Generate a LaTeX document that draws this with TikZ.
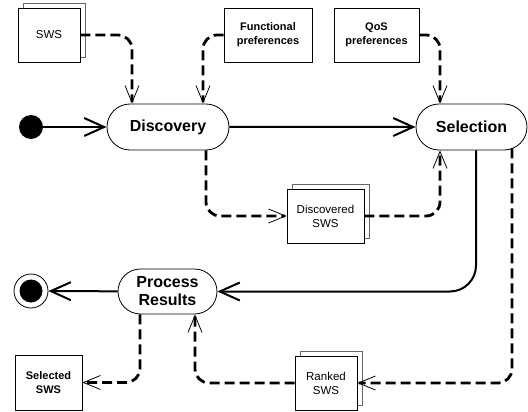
\documentclass[tikz,border=0pt]{standalone}
\usepackage{fontspec}
\setmainfont{Liberation Sans}
\usetikzlibrary{arrows.meta, calc, positioning, shapes.misc, shadows}

\begin{document}
\begin{tikzpicture}[x=1pt, y=-1pt,
  activity/.style={rounded rectangle, draw, line width=0.8pt, minimum height=46pt, inner sep=0pt, align=center, font=\fontsize{16}{18}\selectfont\bfseries},
  object/.style={rectangle, draw, line width=0.8pt, fill=white, minimum height=54pt, inner sep=0pt, align=center, font=\fontsize{11.5}{14}\selectfont},
  boldobject/.style={object, font=\fontsize{11}{14}\selectfont\bfseries},
  multi/.style={copy shadow={shadow xshift=5pt, shadow yshift=5pt, draw=black!60, fill=white, line width=0.6pt}},
  flow/.style={line width=2pt, rounded corners=26pt, -{Straight Barb[length=20pt, width=18pt]}},
  data/.style={line width=2.8pt, dash pattern=on 10pt off 5pt, rounded corners=14pt, -{Straight Barb[length=17pt, width=14pt, line width=0.8pt]}}]

% Boundary
\useasboundingbox (0,0) rectangle (528,412);

% Input objects
\node[object, multi, minimum width=62pt] (sws) at (49,35) {SWS};
\node[boldobject, minimum width=88pt] (func) at (268,35) {Functional\\preferences};
\node[boldobject, minimum width=85pt] (qos) at (376.5,35) {QoS\\preferences};

% Start and end
\node[circle, fill, minimum size=24pt, inner sep=0pt] (start) at (31,127) {};
\node[circle, draw, line width=0.8pt, minimum size=34pt, inner sep=0pt,
  path picture={\fill (path picture bounding box.center) circle (11.5pt);}] (final) at (31,291) {};

% Activities
\node[activity, minimum width=122pt] (disc) at (168,127) {Discovery};
\node[activity, minimum width=111pt] (sel) at (471.5,127) {Selection};
\node[activity, minimum width=99pt, minimum height=45pt] (proc) at (167.5,291.5) {Process\\Results};

% Intermediate objects
\node[object, multi, minimum width=77pt] (dsws) at (325.5,216) {Discovered\\SWS};
\node[object, multi, minimum width=62pt] (rsws) at (326,383) {Ranked\\SWS};
\node[boldobject, minimum width=67pt, minimum height=55pt] (ssws) at (48.5,382.5) {Selected\\SWS};

% Control flow
\draw[flow] (start) -- (disc);
\draw[flow] (disc) -- (sel);
\draw[flow] ([xshift=4.5pt]sel.south) |- (proc.east);
\draw[flow] (proc) -- (final);

% Object flow
\draw[data] (sws.east) -| ([xshift=-36pt]disc.north);
\draw[data] (func.west) -| ([xshift=35pt]disc.north);
\draw[data] (qos.east) -| ([xshift=-31.5pt]sel.north);
\draw[data] ([xshift=38pt]disc.south) |- (dsws.west);
\draw[data] (dsws.east) -| ([xshift=-31.5pt]sel.south);
\draw[data] ([xshift=40.5pt,yshift=2pt]sel.south) |- (rsws.east);
\draw[data] (rsws.west) -| ([xshift=27.5pt]proc.south);
\draw[data] ([xshift=-27.5pt]proc.south) |- (ssws.east);
\end{tikzpicture}
\end{document}
